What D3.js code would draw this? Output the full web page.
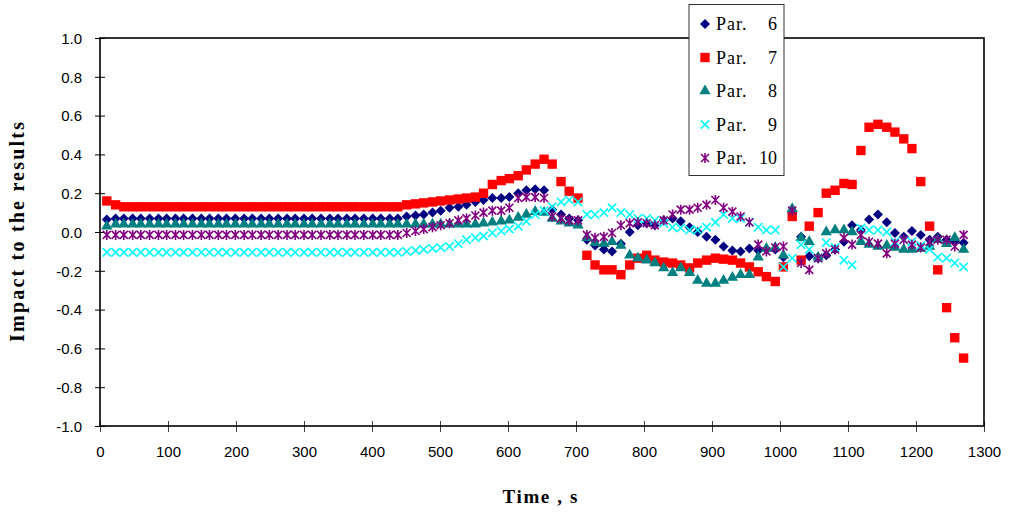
<!DOCTYPE html>
<html><head><meta charset="utf-8">
<script src="https://cdn.jsdelivr.net/npm/d3@7"></script>
<style>
html,body{margin:0;padding:0;background:#fff;}
svg{display:block;}
</style></head>
<body>
<svg id="chart" width="1011" height="515"></svg>
<script>
// ---- data ----
const times = [10,23,35,48,60,73,86,98,111,123,136,149,161,174,186,199,212,224,237,249,262,275,287,300,312,325,338,350,363,375,388,401,413,426,438,451,464,476,489,501,514,527,539,552,564,577,590,602,615,627,640,653,665,678,690,703,716,728,741,753,766,779,791,804,816,829,842,854,867,879,892,905,917,930,942,955,968,980,993,1005,1018,1031,1043,1056,1068,1081,1094,1106,1119,1131,1144,1157,1169,1182,1194,1207,1220,1232,1245,1257,1270];

const par6 = [0.065,0.07,0.07,0.07,0.07,0.07,0.07,0.07,0.07,0.07,0.07,0.07,0.07,0.07,0.07,0.07,0.07,0.07,0.07,0.07,0.07,0.07,0.07,0.07,0.07,0.07,0.07,0.07,0.07,0.07,0.07,0.07,0.07,0.07,0.07,
0.08,0.085,0.09,0.10,0.11,0.125,0.13,0.14,0.155,0.165,0.175,0.175,0.18,0.2,0.215,0.22,0.215,0.115,0.09,0.07,0.06,
-0.04,-0.07,-0.09,-0.10,-0.06,0.0,0.035,0.045,0.035,0.06,0.07,0.055,0.025,0.0,-0.025,-0.04,-0.075,-0.095,-0.1,-0.085,-0.095,-0.09,-0.09,-0.13,
0.1,-0.025,-0.125,-0.135,-0.12,-0.09,-0.05,0.035,0.01,0.065,0.09,0.05,-0.005,-0.025,0.005,-0.015,-0.04,-0.025,-0.04,-0.05,-0.055];

const par7 = [0.16,0.14,0.13,0.13,0.13,0.13,0.13,0.13,0.13,0.13,0.13,0.13,0.13,0.13,0.13,0.13,0.13,0.13,0.13,0.13,0.13,0.13,0.13,0.13,0.13,0.13,0.13,0.13,0.13,0.13,0.13,0.13,0.13,0.13,0.13,
0.14,0.145,0.15,0.155,0.16,0.165,0.17,0.175,0.18,0.20,0.245,0.265,0.275,0.29,0.32,0.35,0.375,0.35,0.26,0.21,0.175,
-0.12,-0.17,-0.195,-0.195,-0.22,-0.17,-0.135,-0.12,-0.145,-0.155,-0.16,-0.17,-0.185,-0.16,-0.145,-0.135,-0.14,-0.145,-0.16,-0.18,-0.205,-0.23,-0.255,-0.18,
0.08,-0.145,0.03,0.10,0.20,0.215,0.25,0.245,0.42,0.54,0.555,0.54,0.515,0.48,0.43,0.26,0.03,-0.195,-0.39,-0.545,-0.65];

const par8 = [0.03,0.04,0.04,0.04,0.04,0.04,0.04,0.04,0.04,0.04,0.04,0.04,0.04,0.04,0.04,0.04,0.04,0.04,0.04,0.04,0.04,0.04,0.04,0.04,0.04,0.04,0.04,0.04,0.04,0.04,0.04,0.04,0.04,0.04,0.04,
0.04,0.04,0.04,0.04,0.04,0.04,0.04,0.04,0.04,0.045,0.05,0.055,0.06,0.075,0.09,0.105,0.10,0.07,0.055,0.045,0.035,
-0.03,-0.055,-0.06,-0.05,-0.07,-0.12,-0.135,-0.145,-0.16,-0.185,-0.21,-0.185,-0.21,-0.25,-0.265,-0.265,-0.25,-0.235,-0.22,-0.22,-0.13,-0.085,-0.08,-0.12,
0.12,-0.03,-0.05,-0.13,0.0,0.01,0.01,0.0,-0.05,-0.065,-0.075,-0.07,-0.08,-0.09,-0.09,-0.085,-0.075,-0.04,-0.06,-0.03,-0.09];

const par9 = [-0.105,-0.105,-0.105,-0.105,-0.105,-0.105,-0.105,-0.105,-0.105,-0.105,-0.105,-0.105,-0.105,-0.105,-0.105,-0.105,-0.105,-0.105,-0.105,-0.105,-0.105,-0.105,-0.105,-0.105,-0.105,-0.105,-0.105,-0.105,-0.105,-0.105,-0.105,-0.105,-0.105,-0.105,-0.105,
-0.1,-0.095,-0.09,-0.085,-0.08,-0.075,-0.06,-0.04,-0.03,-0.02,-0.005,0.005,0.015,0.03,0.055,0.09,0.11,0.13,0.155,0.165,0.155,
0.09,0.09,0.1,0.125,0.1,0.09,0.07,0.07,0.06,0.045,0.025,0.02,0.01,0.01,0.025,0.05,0.09,0.07,0.07,0.05,0.025,0.01,0.01,-0.18,
-0.135,-0.065,-0.09,-0.135,-0.055,-0.08,-0.145,-0.17,0.02,0.01,0.01,0.0,-0.05,-0.04,-0.05,-0.07,-0.09,-0.13,-0.135,-0.16,-0.18];

const par10 = [-0.015,-0.015,-0.015,-0.015,-0.015,-0.015,-0.015,-0.015,-0.015,-0.015,-0.015,-0.015,-0.015,-0.015,-0.015,-0.015,-0.015,-0.015,-0.015,-0.015,-0.015,-0.015,-0.015,-0.015,-0.015,-0.015,-0.015,-0.015,-0.015,-0.015,-0.015,-0.015,-0.015,-0.015,-0.015,
-0.005,0.005,0.015,0.025,0.035,0.045,0.06,0.07,0.085,0.10,0.11,0.11,0.125,0.175,0.18,0.18,0.175,0.08,0.07,0.06,0.06,
-0.015,-0.03,-0.025,-0.005,0.035,0.045,0.05,0.045,0.035,0.06,0.09,0.115,0.115,0.125,0.14,0.165,0.125,0.105,0.08,0.05,-0.065,-0.1,-0.08,-0.075,
0.11,-0.16,-0.195,-0.135,-0.11,-0.09,-0.03,-0.065,-0.015,-0.05,-0.06,-0.11,-0.06,-0.04,-0.065,-0.08,-0.05,-0.04,-0.04,-0.075,-0.015];

const seriesNames = ["Par.","Par.","Par.","Par.","Par."];
const seriesNums = ["6","7","8","9","10"];
const xTicks = [0,100,200,300,400,500,600,700,800,900,1000,1100,1200,1300];
const yTicks = [-1.0,-0.8,-0.6,-0.4,-0.2,0.0,0.2,0.4,0.6,0.8,1.0];
const yTickLabels = ["-1.0","-0.8","-0.6","-0.4","-0.2","0.0","0.2","0.4","0.6","0.8","1.0"];
const xTitle = "Time , s";
const yTitle = "Impact to the results";

// ---- layout ----
const L = 100, R = 984, T = 38, B = 426;
const svg = d3.select("#chart");
const x = d3.scaleLinear().domain([0,1300]).range([L,R]);
const y = d3.scaleLinear().domain([-1,1]).range([B,T]);

const symAsterisk = {draw(ctx, size){
  const r = Math.sqrt(size)/2;
  ctx.moveTo(0,-r*1.25); ctx.lineTo(0,r*1.25);
  ctx.moveTo(-r,-r); ctx.lineTo(r,r);
  ctx.moveTo(-r,r); ctx.lineTo(r,-r);
}};
const symCross = {draw(ctx, size){
  const r = Math.sqrt(size)/2;
  ctx.moveTo(-r,-r); ctx.lineTo(r,r);
  ctx.moveTo(-r,r); ctx.lineTo(r,-r);
}};

const styles = [
  {data: par6, color:"#000080", sym:d3.symbolSquare, size:50, rot:45, fill:true},
  {data: par7, color:"#FF0000", sym:d3.symbolSquare, size:88, rot:0, fill:true},
  {data: par8, color:"#008080", sym:d3.symbolTriangle, size:55, rot:0, fill:true},
  {data: par9, color:"#00FFFF", sym:symCross, size:70, rot:0, fill:false},
  {data: par10, color:"#800080", sym:symAsterisk, size:64, rot:0, fill:false}
];

// axes
const yAxis = d3.axisLeft(y).tickValues(yTicks).tickSize(5).tickPadding(13)
  .tickFormat((d,i)=>yTickLabels[i]);
const gy = svg.append("g").attr("transform",`translate(${L},0)`).call(yAxis);
gy.select(".domain").remove();
gy.selectAll(".tick line").attr("x1",5).attr("stroke","#000").attr("stroke-width",1);
gy.selectAll(".tick text").attr("font-family","Liberation Sans, Arial, sans-serif").attr("font-size",15).attr("fill","#000").attr("dy","0.35em");

const xAxis = d3.axisBottom(x).tickValues(xTicks).tickSize(6).tickPadding(14).tickFormat(d=>String(d));
const gx = svg.append("g").attr("transform",`translate(0,${B})`).call(xAxis);
gx.select(".domain").remove();
gx.selectAll(".tick line").attr("y1",-5).attr("stroke","#444").attr("stroke-width",1);
gx.selectAll(".tick text").attr("font-family","Liberation Sans, Arial, sans-serif").attr("font-size",15).attr("fill","#000");

// frame
svg.append("rect").attr("x",L).attr("y",T).attr("width",R-L).attr("height",B-T)
  .attr("fill","none").attr("stroke","#000").attr("stroke-width",1.6);

// series
styles.forEach((s)=>{
  const g = svg.append("g");
  const gen = d3.symbol().type(s.sym).size(s.size);
  g.selectAll("path").data(s.data).join("path")
    .attr("d", gen)
    .attr("transform",(d,i)=>`translate(${x(times[i])},${y(d)}) rotate(${s.rot})`)
    .attr("fill", s.fill ? s.color : "none")
    .attr("stroke", s.fill ? "none" : s.color)
    .attr("stroke-width", 1.6);
});

// legend
const lg = svg.append("g");
lg.append("rect").attr("x",689).attr("y",4.5).attr("width",95).attr("height",171)
  .attr("fill","#fff").attr("stroke","#333").attr("stroke-width",1);
styles.forEach((s,i)=>{
  const cy = 24 + i*33.5;
  const gen = d3.symbol().type(s.sym).size(s.size);
  lg.append("path").attr("d",gen)
    .attr("transform",`translate(705,${cy}) rotate(${s.rot})`)
    .attr("fill", s.fill ? s.color : "none")
    .attr("stroke", s.fill ? "none" : s.color)
    .attr("stroke-width",1.6);
  lg.append("text").attr("x",716).attr("y",cy+6).text(seriesNames[i])
    .attr("font-family","Liberation Serif, Times New Roman, serif").attr("font-size",18)
    .attr("letter-spacing",1);
  lg.append("text").attr("x",777).attr("y",cy+6).attr("text-anchor","end").text(seriesNums[i])
    .attr("font-family","Liberation Serif, Times New Roman, serif").attr("font-size",18);
});

// titles
svg.append("text").attr("x",540).attr("y",503).attr("text-anchor","middle")
  .attr("font-family","Liberation Serif, Times New Roman, serif").attr("font-weight","bold")
  .attr("font-size",19).attr("textLength",75).attr("lengthAdjust","spacing").text(xTitle);
svg.append("text").attr("transform","translate(24,232) rotate(-90)").attr("text-anchor","middle")
  .attr("font-family","Liberation Serif, Times New Roman, serif").attr("font-weight","bold")
  .attr("font-size",20).attr("textLength",220).attr("lengthAdjust","spacing").text(yTitle);
</script>
</body></html>
